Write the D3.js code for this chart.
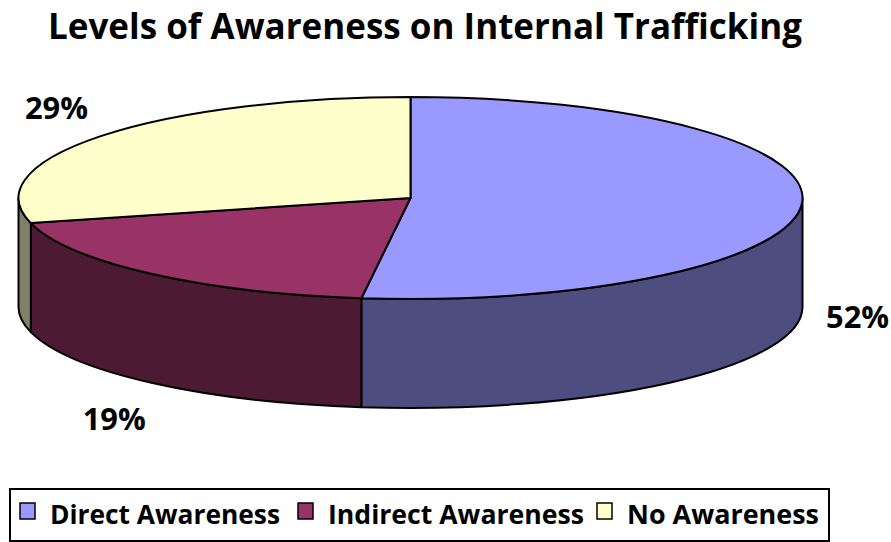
<!DOCTYPE html>
<html>
<head>
<meta charset="utf-8">
<script src="https://cdn.jsdelivr.net/npm/d3@7.9.0/dist/d3.min.js"></script>
<style>
  html, body { margin: 0; padding: 0; background: #fff; }
  svg { display: block; font-family: "Open Sans", Lato, sans-serif; font-weight: bold; }
</style>
</head>
<body>
<svg id="chart" width="891" height="542"></svg>
<script>
const categories = ['Direct Awareness', 'Indirect Awareness', 'No Awareness'];
const values = [52, 19, 29];
const topColors = ['#9999ff', '#993366', '#ffffcc'];

const width = 891, height = 542;
const cx = 410.5, cy = 198, rx = 392, ry = 101, depth = 109;

const svg = d3.select('#chart');

// shade for the wall of the pie
function shade(c, k) {
  const col = d3.rgb(c);
  return d3.rgb(col.r * k, col.g * k, col.b * k).formatHex();
}

const pie = d3.pie().sort(null).value(d => d.value);
const arcs = pie(categories.map((name, i) => ({ name, value: values[i], color: topColors[i] })));

const pt = (a, dy = 0) => [cx + rx * Math.sin(a), cy - ry * Math.cos(a) + dy];

function wallPath(a0, a1) {
  const s = Math.max(a0, Math.PI / 2), e = Math.min(a1, 3 * Math.PI / 2);
  if (s >= e) return null;
  const p0 = pt(s), p1 = pt(e), q1 = pt(e, depth), q0 = pt(s, depth);
  return `M${p0}A${rx},${ry} 0 0 1 ${p1}L${q1}A${rx},${ry} 0 0 0 ${q0}Z`;
}

function topPath(a0, a1) {
  const p0 = pt(a0), p1 = pt(a1);
  const large = a1 - a0 > Math.PI ? 1 : 0;
  return `M${cx},${cy}L${p0}A${rx},${ry} 0 ${large} 1 ${p1}Z`;
}

// walls
svg.append('g')
  .selectAll('path')
  .data(arcs.filter(d => wallPath(d.startAngle, d.endAngle)))
  .join('path')
  .attr('d', d => wallPath(d.startAngle, d.endAngle))
  .attr('fill', d => shade(d.data.color, 0.5))
  .attr('stroke', '#000')
  .attr('stroke-width', 2)
  .attr('stroke-linejoin', 'round');

// tops
svg.append('g')
  .selectAll('path')
  .data(arcs)
  .join('path')
  .attr('d', d => topPath(d.startAngle, d.endAngle))
  .attr('fill', d => d.data.color)
  .attr('stroke', '#000')
  .attr('stroke-width', 2)
  .attr('stroke-linejoin', 'round');

// percentage labels
const total = d3.sum(values);
svg.append('g')
  .selectAll('text')
  .data(arcs)
  .join('text')
  .attr('x', d => {
    const a = (d.startAngle + d.endAngle) / 2;
    return cx + 448 * Math.sin(a);
  })
  .attr('y', d => {
    const a = (d.startAngle + d.endAngle) / 2;
    const c = Math.cos(a);
    return cy - 148 * c + (c < 0 ? depth : 0);
  })
  .attr('text-anchor', 'middle')
  .attr('dominant-baseline', 'central')
  .attr('font-size', 31)
  .attr('textLength', 63)
  .attr('lengthAdjust', 'spacingAndGlyphs')
  .text(d => Math.round(d.data.value / total * 100) + '%');

// title
svg.append('text')
  .attr('x', 425)
  .attr('y', 39)
  .attr('text-anchor', 'middle')
  .attr('font-size', 36)
  .attr('textLength', 754)
  .attr('lengthAdjust', 'spacingAndGlyphs')
  .text('Levels of Awareness on Internal Trafficking');

// legend
const legend = svg.append('g');
legend.append('rect')
  .attr('x', 10).attr('y', 489)
  .attr('width', 819).attr('height', 52)
  .attr('fill', '#fff')
  .attr('stroke', '#000')
  .attr('stroke-width', 2);

const legendX = [20, 298, 597];
const legendW = [230, 256, 192];
const items = legend.selectAll('g.item')
  .data(arcs)
  .join('g')
  .attr('class', 'item')
  .attr('transform', (d, i) => `translate(${legendX[i]},0)`);

items.append('rect')
  .attr('x', 0).attr('y', 503)
  .attr('width', 15).attr('height', 16)
  .attr('fill', d => d.data.color)
  .attr('stroke', '#000')
  .attr('stroke-width', 1.5);

items.append('text')
  .attr('x', 30)
  .attr('y', 524)
  .attr('font-size', 27)
  .attr('textLength', (d, i) => legendW[i])
  .attr('lengthAdjust', 'spacingAndGlyphs')
  .text(d => d.data.name);
</script>
</body>
</html>
